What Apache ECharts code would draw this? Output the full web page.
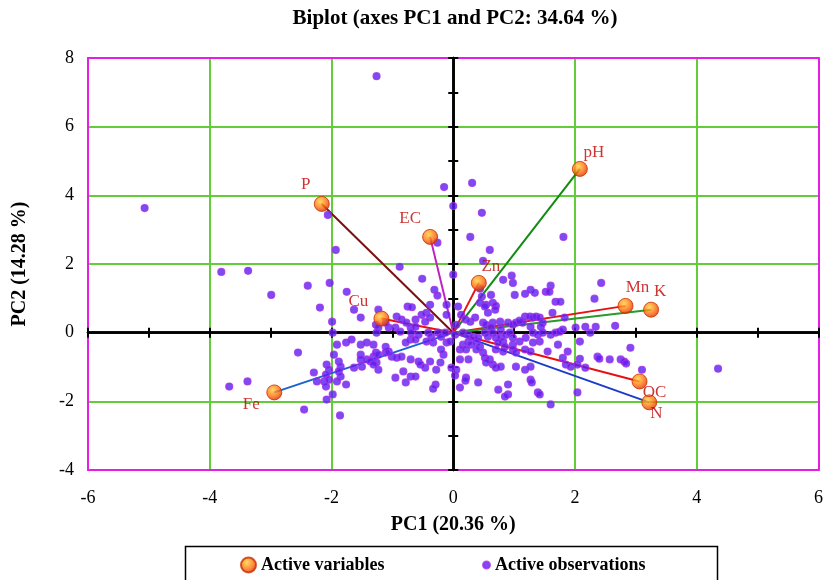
<!DOCTYPE html>
<html>
<head>
<meta charset="utf-8">
<script src="https://cdn.jsdelivr.net/npm/echarts@6/dist/echarts.min.js"></script>
<style>html,body{margin:0;padding:0;background:#fff}#chart{width:826px;height:580px}</style>
</head>
<body>
<div id="chart"></div>
<script>
// ---- Data ----
const titleText = 'Biplot (axes PC1 and PC2: 34.64 %)';
const xName = 'PC1 (20.36 %)';
const yName = 'PC2 (14.28 %)';
const xTicks = [-6, -4, -2, 0, 2, 4, 6];
const yTicks = [-4, -2, 0, 2, 4, 6, 8];

const varNames = ['P', 'EC', 'pH', 'Zn', 'Cu', 'Fe', 'Mn', 'K', 'OC', 'N'];
const varPC1 = [-2.16, -0.38, 2.08, 0.42, -1.18, -2.94, 2.83, 3.25, 3.06, 3.22];
const varPC2 = [3.75, 2.79, 4.77, 1.45, 0.41, -1.74, 0.78, 0.67, -1.42, -2.03];

const obsPC1 = [-5.07,-1.26,-2.06,-1.93,-3.81,-3.37,-2.39,-2.03,-2.99,-2.19,
-1.75,-1.63,-1.52,-1.99,-1.98,-2.55,-1.91,-1.76,-1.67,-1.52,
-1.42,-1.31,-1.96,-1.88,-1.85,-1.52,-1.52,-1.42,-1.31,-1.27,
-1.23,-1.11,-1.06,-1.01,-0.93,-1.26,-1.36,-1.50,-1.63,-2.08,
-2.04,-2.09,-2.29,-2.24,-2.12,-2.09,-2.04,-1.88,-1.85,-1.91,
-1.76,-1.31,-1.23,-0.95,-0.82,-0.78,-0.70,-2.08,-1.98,-2.45,
-1.86,-3.68,-3.38,-1.23,-0.75,-1.27,-1.23,-1.26,-0.93,-0.85,
-0.77,-1.06,-0.95,-0.87,-0.70,-0.69,-0.70,-0.78,-0.88,-0.15,
0.31,0.00,0.47,-0.26,0.28,0.60,0.49,0.00,-0.51,-0.31,
-0.26,0.62,0.82,0.96,0.98,1.01,1.18,1.27,1.34,1.52,
1.81,2.43,2.32,1.60,1.58,1.68,1.76,0.47,0.54,0.65,
0.70,0.08,-0.38,-0.68,-0.11,-0.11,-0.44,-0.38,-0.46,-0.52,
-0.62,-1.11,0.13,0.20,0.28,0.36,0.44,0.52,0.69,0.57,
0.49,0.54,0.65,0.77,0.62,0.78,0.90,0.98,1.03,1.14,
1.18,1.26,1.31,1.36,1.42,1.47,1.44,1.27,1.09,1.63,
1.83,2.01,2.17,2.34,2.66,2.25,1.60,1.68,1.75,1.80,
-0.62,-0.57,-0.41,-0.36,-0.25,-0.20,-0.13,0.05,0.03,0.16,
0.25,0.33,0.41,0.25,0.29,0.38,0.44,0.16,0.11,0.21,
0.38,0.49,0.52,0.57,0.65,0.70,0.78,0.87,0.93,0.98,
0.82,0.74,0.85,0.98,1.09,1.19,1.31,1.39,1.47,1.31,
1.42,1.18,1.27,0.98,1.03,0.70,0.82,0.52,0.60,0.54,
0.65,0.70,0.78,0.11,0.25,0.05,0.03,0.21,0.20,0.11,
0.74,0.90,0.90,1.03,1.18,1.27,1.39,1.42,1.60,2.04,
2.08,1.55,1.88,1.80,2.08,2.37,2.40,2.75,2.81,2.84,
2.91,1.85,1.93,2.17,3.10,4.35,-0.57,-0.54,-0.46,-0.38,
-0.28,-0.29,-0.33,-0.62,-0.16,-0.20,-0.11,-0.05,-0.33,-0.44,
-0.62,-1.11,-0.85,-0.70,-0.21,-0.03,0.41,0.85,1.29,1.27,
1.72,2.04,2.57,0.44];

const obsPC2 = [3.63,7.47,3.43,2.41,1.77,1.80,1.37,1.45,1.10,0.73,
1.19,0.67,0.44,0.32,0.00,-0.58,-0.35,-0.29,-0.20,-0.35,
-0.29,-0.35,-0.64,-0.84,-0.99,-0.64,-0.78,-0.78,-0.70,-0.58,
-0.64,-0.58,-0.55,-0.70,-0.73,-0.87,-0.84,-0.99,-1.02,-0.93,
-1.08,-1.22,-1.16,-1.42,-1.42,-1.57,-1.37,-1.13,-1.28,-1.42,
-1.51,-0.93,-1.08,-1.31,-1.13,-1.45,-1.28,-1.95,-1.80,-2.24,
-2.41,-1.57,-1.42,0.67,0.76,0.23,0.15,0.00,0.47,0.38,
0.29,0.15,0.15,0.03,0.15,0.00,-0.20,-0.29,1.92,4.24,
4.36,3.69,3.49,2.62,2.79,2.41,2.09,1.69,1.57,1.25,
1.08,1.10,1.54,1.66,1.45,1.10,1.13,1.25,1.16,1.19,
2.79,1.45,0.99,1.37,1.19,0.90,0.90,1.05,0.81,0.87,
0.78,0.76,0.81,0.74,0.81,0.52,0.58,0.44,0.32,0.52,
0.38,0.29,0.52,0.38,0.32,0.44,0.87,0.76,0.67,0.58,
0.29,0.23,0.29,0.32,0.15,0.09,0.29,0.23,0.29,0.29,
0.47,0.47,0.44,0.47,0.44,0.29,0.17,0.17,0.35,0.58,
0.44,0.15,0.17,0.17,0.20,0.00,-0.06,0.00,0.03,0.09,
0.17,-0.06,0.00,-0.12,0.00,-0.12,0.00,0.23,-0.06,0.00,
-0.06,-0.12,-0.15,-0.26,-0.35,-0.29,-0.41,-0.35,-0.49,-0.49,
-0.49,-0.58,0.00,-0.12,0.00,-0.15,-0.12,-0.06,0.00,-0.15,
-0.26,-0.29,-0.41,-0.35,-0.26,-0.15,0.00,-0.06,0.00,-0.29,
-0.26,-0.49,-0.55,-0.49,-0.58,-0.49,-0.55,-0.73,-0.78,-0.87,
-0.93,-1.02,-0.99,-0.78,-0.78,-1.08,-1.25,-1.31,-1.40,-1.60,
-1.66,-1.51,-1.80,-0.99,-1.08,-1.37,-1.74,-1.80,-2.09,-1.74,
-0.26,-0.55,-0.55,-0.73,-0.76,-0.70,-0.76,-0.78,-0.84,-0.90,
-0.44,-0.93,-0.99,-1.02,-1.08,-1.05,-0.84,-0.93,-1.02,-0.84,
-1.08,-1.51,-1.63,-1.28,-0.64,-0.49,-0.29,-0.26,-0.29,-0.26,
-0.20,-0.41,-0.70,-0.78,-0.87,-1.02,-1.45,-1.86,-1.45,-0.99,
-0.35,-0.93,-0.78,1.28];

// ---- Styles ----
const SERIF = "'Liberation Serif', 'Times New Roman', serif";
const lineColors = {P:'#7a1010', EC:'#c020c0', pH:'#138a13', Zn:'#e81010', Cu:'#e81010',
  Fe:'#1a62d0', Mn:'#e81010', K:'#2a9a2a', OC:'#e81010', N:'#1c3cc8'};
const labelOffsets = {P:[-16,-19], EC:[-20,-18], pH:[14,-16], Zn:[12,-16], Cu:[-23,-17],
  Fe:[-23,12], Mn:[12,-18], K:[9,-18], OC:[15,11], N:[7,11]};
const GRID_GREEN = '#62cc3a';
const FRAME = '#e41ee4';

const chart = echarts.init(document.getElementById('chart'));

const varDotColor = new echarts.graphic.RadialGradient(0.4, 0.35, 0.65, [
  {offset: 0, color: '#ffd23a'}, {offset: 0.6, color: '#ff7010'}, {offset: 1, color: '#d83200'}
]);

const lineSeries = varNames.map((n, i) => ({
  type: 'line', name: n, xAxisIndex: 0, yAxisIndex: 0,
  data: [[0, 0], [varPC1[i], varPC2[i]]],
  showSymbol: false, symbol: 'none', silent: true, z: 3,
  lineStyle: {color: lineColors[n], width: 2}
}));

const frameAxisX = (pos) => ({
  type: 'value', min: -6, max: 6, interval: 2, position: pos,
  axisLine: {show: true, onZero: false, lineStyle: {color: FRAME, width: 2}},
  axisTick: {show: false}, axisLabel: {show: false}, splitLine: {show: false}
});
const frameAxisY = (pos) => ({
  type: 'value', min: -4, max: 8, interval: 2, position: pos,
  axisLine: {show: true, onZero: false, lineStyle: {color: FRAME, width: 2}},
  axisTick: {show: false}, axisLabel: {show: false}, splitLine: {show: false}
});
const zeroAxisX = (pos) => ({
  type: 'value', min: -6, max: 6, interval: 1, position: pos, z: 1,
  axisLine: {show: true, onZero: true, onZeroAxisIndex: 0, lineStyle: {color: '#000', width: 2.5}},
  axisTick: {show: true, length: 5, lineStyle: {color: '#000', width: 2}},
  axisLabel: {show: false}, splitLine: {show: false}
});
const zeroAxisY = (pos) => ({
  type: 'value', min: -4, max: 8, interval: 1, position: pos, z: 1,
  axisLine: {show: true, onZero: true, onZeroAxisIndex: 0, lineStyle: {color: '#000', width: 2.5}},
  axisTick: {show: true, length: 5, lineStyle: {color: '#000', width: 2}},
  axisLabel: {show: false}, splitLine: {show: false}
});

const option = {
  backgroundColor: '#fff',
  animation: false,
  title: {
    text: titleText, left: 455, top: 8, textAlign: 'center', padding: 0,
    textStyle: {fontFamily: SERIF, fontWeight: 'bold', fontSize: 21, color: '#000'}
  },
  grid: {left: 88, right: 4, top: 58, bottom: 110, containLabel: false},
  xAxis: [
    {
      type: 'value', min: xTicks[0], max: xTicks[xTicks.length - 1], interval: 2, position: 'bottom',
      name: xName, nameLocation: 'middle', nameGap: 45,
      nameTextStyle: {fontFamily: SERIF, fontWeight: 'bold', fontSize: 20, color: '#000'},
      axisLine: {show: true, onZero: false, lineStyle: {color: FRAME, width: 2}},
      axisTick: {show: false},
      axisLabel: {fontFamily: SERIF, fontSize: 18, color: '#000', margin: 19},
      splitLine: {show: true, showMinLine: false, showMaxLine: false, lineStyle: {color: GRID_GREEN, width: 2}}
    },
    frameAxisX('top'),
    zeroAxisX('bottom'),
    zeroAxisX('top')
  ],
  yAxis: [
    {
      type: 'value', min: yTicks[0], max: yTicks[yTicks.length - 1], interval: 2, position: 'left',
      name: yName, nameLocation: 'middle', nameGap: 58, nameRotate: 90,
      nameTextStyle: {fontFamily: SERIF, fontWeight: 'bold', fontSize: 20, color: '#000'},
      axisLine: {show: true, onZero: false, lineStyle: {color: FRAME, width: 2}},
      axisTick: {show: false},
      axisLabel: {fontFamily: SERIF, fontSize: 18, color: '#000', margin: 14},
      splitLine: {show: true, showMinLine: false, showMaxLine: false, lineStyle: {color: GRID_GREEN, width: 2}}
    },
    frameAxisY('right'),
    zeroAxisY('left'),
    zeroAxisY('right')
  ],
  legend: [
    {
      data: ['Active variables'], left: 240, top: 556, icon: 'circle',
      itemWidth: 15, itemHeight: 15, padding: 0,
      textStyle: {fontFamily: SERIF, fontWeight: 'bold', fontSize: 18, color: '#000'}
    },
    {
      data: ['Active observations'], left: 482, top: 556, icon: 'circle',
      itemWidth: 7, itemHeight: 7, padding: 0,
      textStyle: {fontFamily: SERIF, fontWeight: 'bold', fontSize: 18, color: '#000'}
    }
  ],
  graphic: [{
    type: 'rect', left: 183, top: 544, z: 100,
    shape: {width: 532, height: 60},
    style: {fill: 'none', stroke: '#000', lineWidth: 1.5}
  }],
  series: [
    ...lineSeries,
    {
      type: 'scatter', name: 'Active observations', xAxisIndex: 0, yAxisIndex: 0, z: 4,
      data: obsPC1.map((x, i) => [x, obsPC2[i]]),
      symbol: 'circle', symbolSize: 7,
      itemStyle: {color: '#5a1ef0', borderColor: '#a030e8', borderWidth: 1.2}
    },
    {
      type: 'scatter', name: 'Active variables', xAxisIndex: 0, yAxisIndex: 0, z: 5,
      data: varNames.map((n, i) => ({
        name: n, value: [varPC1[i], varPC2[i]],
        label: {offset: labelOffsets[n]}
      })),
      symbol: 'circle', symbolSize: 15,
      itemStyle: {color: varDotColor, borderColor: '#c83000', borderWidth: 1},
      label: {
        show: true, position: 'inside', formatter: '{b}',
        fontFamily: SERIF, fontSize: 17, color: '#c00000'
      }
    }
  ]
};
chart.setOption(option);
</script>
</body>
</html>
